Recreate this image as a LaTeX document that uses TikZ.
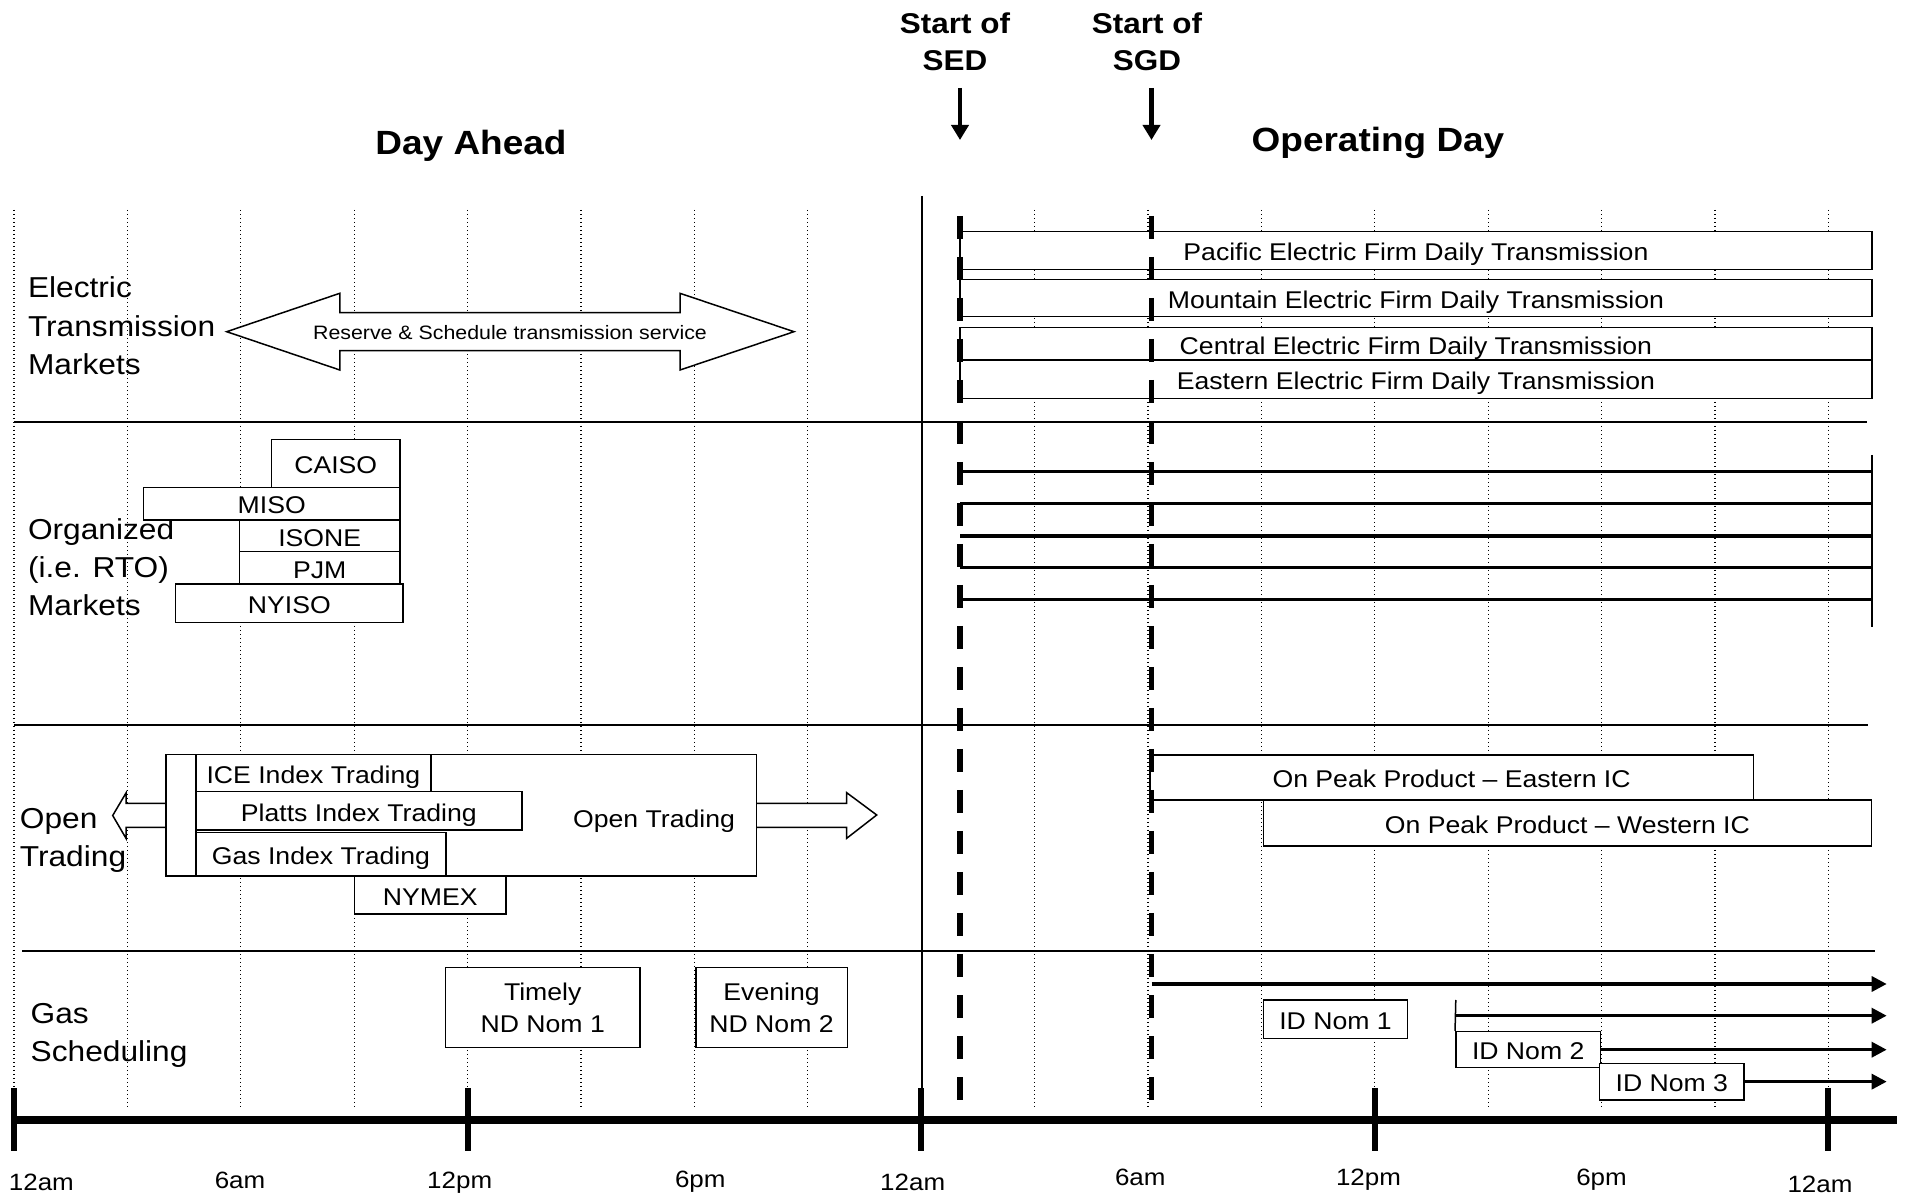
\documentclass[tikz,border=0pt]{standalone}
\usepackage{fontspec}
\setmainfont{Liberation Sans}[FakeStretch=1.1]
\usetikzlibrary{arrows.meta}
\begin{document}
\begin{tikzpicture}[x=0.5pt,y=-0.5pt,
  gridln/.style={line width=0.6pt, dash pattern=on 0.6pt off 1.4pt},
  sepln/.style={line width=1pt},
  boxn/.style={draw, line width=0.75pt, fill=white, inner sep=0pt, font=\fontsize{12.1pt}{14pt}\selectfont, text height=10.2pt, text depth=0pt},
  boxm/.style={draw, line width=0.75pt, fill=white, inner sep=0pt, font=\fontsize{12.1pt}{16pt}\selectfont, align=center},
  seclbl/.style={anchor=base west, align=left, inner sep=0pt, font=\fontsize{14.4pt}{19.15pt}\selectfont},
  ttl/.style={anchor=base, inner sep=0pt, font=\bfseries\fontsize{16.8pt}{20pt}\selectfont},
  startlbl/.style={anchor=base, inner sep=0pt, align=center, font=\bfseries\fontsize{14.3pt}{18.5pt}\selectfont},
  tlbl/.style={anchor=base, inner sep=0pt, font=\fontsize{11.8pt}{14pt}\selectfont},
  dashv/.style={line width=2.6pt, dash pattern=on 11.5pt off 9pt},
  orgline/.style={line width=1.65pt},
  garrow/.style={line width=1.65pt, -{Triangle[length=7.5pt,width=7.5pt]}},
  darrow/.style={line width=2.3pt, -{Triangle[length=7.5pt,width=8.5pt]}},
  outl/.style={draw, line width=0.75pt, fill=white, line join=miter},
]
\useasboundingbox (0,0) rectangle (1908,1197);
\fill[white] (0,0) rectangle (1908,1197);

% dotted grid
\foreach \t in {0,3,...,21,27,30,...,48}
  \draw[gridln] ({14+37.8*\t},210) -- ({14+37.8*\t},1108);

% separators and day divider
\draw[sepln] (14,422.5) -- (1867,422.5);
\draw[sepln] (14,725) -- (1868,725);
\draw[sepln] (22,951) -- (1875,951);
\draw[line width=1pt] (922,196) -- (922,1118);

% titles
\node[ttl] (dayahead) at (471,155) {Day Ahead};
\node[ttl] (opday) at (1378,152) {Operating Day};
\node[startlbl] (sedlbl) at (955,71) {Start of\\SED};
\node[startlbl] (sgdlbl) at (1147,71) {Start of\\SGD};
\coordinate (sedtop) at (960,88);
\coordinate (sedtip) at (960,140);
\coordinate (sgdtop) at (1151.5,88);
\coordinate (sgdtip) at (1151.5,140);
\draw[darrow] (sedtop) -- (sedtip);
\draw[darrow] (sgdtop) -- (sgdtip);

% section labels (anchor = baseline of last line)
\node[seclbl] (lblelec) at (27.6,374.5) {Electric\\Transmission\\Markets};
\node[seclbl] (lblorg) at (27.6,616) {Organized\\(i.e. RTO)\\Markets};
\node[seclbl] (lblopen) at (19.5,867) {Open\\Trading};
\node[seclbl] (lblgas) at (30.3,1061.5) {Gas\\Scheduling};

% electric transmission
\filldraw[outl] (226.7,331.7) -- (339.8,293.3) -- (339.8,312.7) -- (680,312.7) -- (680,293.3)
  -- (794,331.7) -- (680,370) -- (680,350.7) -- (339.8,350.7) -- (339.8,370) -- cycle;
\node[inner sep=0pt, font=\fontsize{9.7pt}{12pt}\selectfont, text height=7.6pt, text depth=0pt] (reserve) at (510,331.7) {Reserve \& Schedule transmission service};

\node[boxn, minimum width=456.1pt, minimum height=18.8pt] (pac) at (1415.9,250.5) {Pacific Electric Firm Daily Transmission};
\node[boxn, minimum width=456.1pt, minimum height=18.7pt] (mtn) at (1415.9,298) {Mountain Electric Firm Daily Transmission};
\node[boxn, minimum width=456.1pt, minimum height=16.15pt] (cen) at (1415.9,343.85) {Central Electric Firm Daily Transmission};
\node[boxn, minimum width=456.1pt, minimum height=19.15pt] (eas) at (1415.9,379.15) {Eastern Electric Firm Daily Transmission};

% organized markets
\node[boxn, minimum width=64.25pt, minimum height=24pt] (caiso) at (335.75,463.3) {CAISO};
\node[boxn, minimum width=128.25pt, minimum height=16.35pt] (miso) at (271.75,503.65) {MISO};
\node[boxn, minimum width=80.3pt, minimum height=15.85pt] (isone) at (319.7,535.85) {ISONE};
\node[boxn, minimum width=80.3pt, minimum height=16.15pt] (pjm) at (319.7,567.85) {PJM};
\node[boxn, minimum width=113.65pt, minimum height=19.15pt] (nyiso) at (289.35,603.15) {NYISO};

\foreach \y in {471.7,503.3,536,567.7,599.3}
  \draw[orgline] (960,\y) -- (1872,\y);
\draw[line width=1pt] (1872,455) -- (1872,627);

% open trading
\filldraw[outl] (166,803.5) -- (126,803.5) -- (126,793) -- (112.7,815.5) -- (126,838.3) -- (126,827.3) -- (166,827.3) -- cycle;
\filldraw[outl] (756,803.3) -- (846.7,803.3) -- (846.7,792.7) -- (876.7,815) -- (846.7,838.3) -- (846.7,827.3) -- (756,827.3) -- cycle;
\node[boxn, minimum width=295.2pt, minimum height=60.65pt] (ot) at (461.2,815.35) {};
\node[inner sep=0pt, font=\fontsize{12.1pt}{14pt}\selectfont, text height=10.2pt, text depth=0pt] (otlbl) at (654,817.3) {Open Trading};
\draw[line width=0.75pt] (195.8,754.7) -- (195.8,876);
\node[boxn, minimum width=117.55pt, minimum height=18.5pt] (ice) at (313.35,773.2) {ICE Index Trading};
\node[boxn, minimum width=163pt, minimum height=19.15pt] (platts) at (358.8,810.85) {Platts Index Trading};
\node[boxn, minimum width=125.1pt, minimum height=21.65pt] (gasidx) at (320.9,854.35) {Gas Index Trading};
\node[boxn, minimum width=75.75pt, minimum height=19pt] (nymex) at (430.25,895) {NYMEX};

\node[boxn, minimum width=301.8pt, minimum height=22.5pt] (opeast) at (1451.6,777.5) {On Peak Product \textendash{} Eastern IC};
\node[boxn, minimum width=303.95pt, minimum height=23pt] (opwest) at (1567.35,823) {On Peak Product \textendash{} Western IC};

% gas scheduling
\node[boxm, minimum width=97.25pt, minimum height=40pt] (timely) at (542.75,1007.7) {Timely\\ND Nom 1};
\node[boxm, minimum width=75.75pt, minimum height=40pt] (evening) at (771.55,1007.7) {Evening\\ND Nom 2};
\node[boxn, minimum width=72.1pt, minimum height=19.15pt] (id1) at (1335.5,1019.15) {ID Nom 1};
\node[boxn, minimum width=72.4pt, minimum height=18pt] (id2) at (1528.2,1049.7) {ID Nom 2};
\node[boxn, minimum width=72.4pt, minimum height=18.35pt] (id3) at (1671.8,1081.65) {ID Nom 3};

\coordinate (g1s) at (1151.5,984);
\coordinate (g1e) at (1886.7,984);
\coordinate (id2top) at (1455.8,1000);
\coordinate (g2s) at (1455.8,1015.7);
\draw[line width=0.75pt] (id2top) -- (id2.north west);
\draw[garrow] (g1s) -- (g1e);
\draw[garrow] (g2s) -- (g2s -| g1e);
\draw[garrow] (id2.east) -- (id2.east -| g1e);
\draw[garrow] (id3.east) -- (id3.east -| g1e);

% SED / SGD dashed lines
\draw[dashv] (960,216) -- (960,1117);
\draw[dashv] (1151.5,216) -- (1151.5,1117);

% time axis
\draw[line width=4pt] (13,1120) -- (1897,1120);
\foreach \t in {0,12,24,36,48}
  \draw[line width=3pt] ({14+37.8*\t},1088) -- ({14+37.8*\t},1151);

\node[tlbl] (t0) at (41.4,1190) {12am};
\node[tlbl] (t6) at (240,1188) {6am};
\node[tlbl] (t12) at (459.7,1188.5) {12pm};
\node[tlbl] (t18) at (700.3,1187.5) {6pm};
\node[tlbl] (t24) at (912.7,1190) {12am};
\node[tlbl] (t30) at (1140.3,1185) {6am};
\node[tlbl] (t36) at (1368.5,1185) {12pm};
\node[tlbl] (t42) at (1601.5,1185) {6pm};
\node[tlbl] (t48) at (1820,1192.5) {12am};
\end{tikzpicture}
\end{document}
